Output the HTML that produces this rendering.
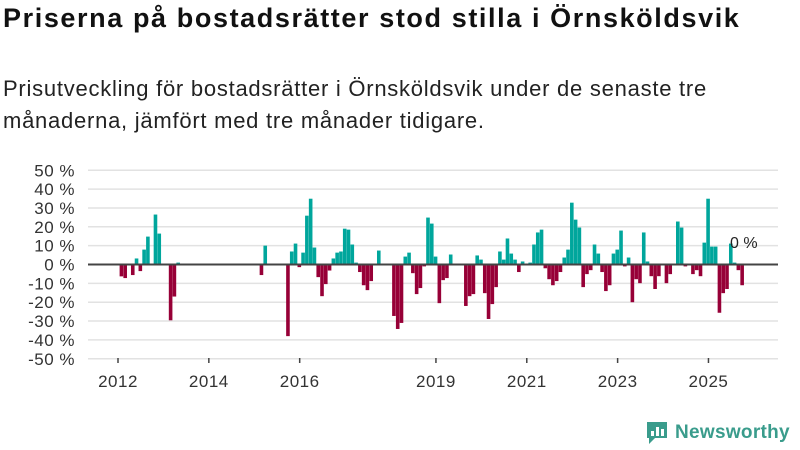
<!DOCTYPE html>
<html><head><meta charset="utf-8"><style>
body{margin:0;width:800px;height:450px;background:#fff;font-family:"Liberation Sans",sans-serif;overflow:hidden;position:relative}
h1{position:absolute;left:3px;top:3px;margin:0;font-size:27px;font-weight:bold;color:#111;letter-spacing:1.6px;white-space:nowrap}
p{position:absolute;left:3px;top:73px;margin:0;font-size:22px;line-height:32px;color:#222;width:760px;letter-spacing:0.75px}
</style></head><body>
<h1>Priserna på bostadsrätter stod stilla i Örnsköldsvik</h1>
<p>Prisutveckling för bostadsrätter i Örnsköldsvik under de senaste tre<br>månaderna, jämfört med tre månader tidigare.</p>
<svg id="chart" width="800" height="450" style="position:absolute;left:0;top:0"></svg>
<div style="position:absolute;left:645px;top:420px;display:flex;align-items:center">
<svg width="24" height="26"><path d="M2 2h20v16h-12l-6 6v-6h-2z" fill="#3a9c8c"/><rect x="6" y="11" width="3" height="5" fill="#fff"/><rect x="11" y="7" width="3" height="9" fill="#fff"/><rect x="16" y="9" width="3" height="7" fill="#fff"/></svg>
<span style="font-size:19px;font-weight:bold;color:#3a9c8c;margin-left:6px;letter-spacing:0.3px">Newsworthy</span></div>
<script>
const values=[-6.3,-7.2,null,-5.6,3.2,-3.5,7.9,14.8,null,26.5,16.4,null,null,-29.6,-17,1,
null,null,null,null,null,null,null,null,null,null,null,null,null,null,null,null,null,null,null,null,null,-5.6,10,null,null,null,null,null,-38,6.9,11.1,-1.4,6.3,25.9,34.9,9,-6.7,-16.8,-10.4,-3.2,
3.2,6.3,6.9,19,18.5,10.6,1,-4,-11,-13.6,-8.8,null,7.4,null,null,null,-27.3,-34.2,-31,4.2,6.3,-4.6,-15.7,-12.5,-1,24.9,21.7,4.2,-20.5,-8.3,-7.2,5.3,
null,null,null,-22,-16.8,-15.7,4.8,2.6,-15.2,-28.9,-21,-12,6.9,2.6,13.8,5.8,2.6,-4,1.6,null,1,10.6,17,18.5,-2,-7.8,-11,-8.8,-4,
3.7,7.9,32.8,23.8,19.6,-12,-5.1,-3,10.6,5.8,-4,-14.1,-11,5.8,7.9,18,-1,3.7,-20,-7.8,-9.9,17,1.6,-6.2,-13,-6.2,null,-9.9,-5.1,null,22.8,19.6,-1,null,-5.1,-3,-6.2,11.6,34.9,9.5,9.5,-25.6,-15.2,-13,11.1,1,-3,-11];
const yTicks=[50,40,30,20,10,0,-10,-20,-30,-40,-50];
const xYears=[2012,2014,2016,2019,2021,2023,2025];
const NS="http://www.w3.org/2000/svg",svg=document.getElementById('chart');
const y=v=>264.5-v*1.885;
const yearX=yr=>118+(yr-2012)*45.42;
const monthX=i=>118+(i+0.9)*3.785;
function el(t,a){const e=document.createElementNS(NS,t);for(const k in a)e.setAttribute(k,a[k]);svg.appendChild(e);return e;}
yTicks.forEach(t=>{
 const g=el('line',{x1:88,x2:778,y1:y(t),y2:y(t),stroke:'#e2e2e2','stroke-width':1.5});
 
 
 const tx=el('text',{x:75,y:y(t)+6,'text-anchor':'end','font-size':17,fill:'#333','font-family':'Liberation Sans, sans-serif','letter-spacing':0.5});
 tx.textContent=t+' %';
 
 
});
xYears.forEach(yr=>{
 const x=yearX(yr);
 const l=el('line',{x1:x,x2:x,y1:358,y2:363,stroke:'#444','stroke-width':1.5});
 
 
 const tx=el('text',{x:x,y:387,'text-anchor':'middle','font-size':17,fill:'#333','font-family':'Liberation Sans, sans-serif','letter-spacing':0.5});
 tx.textContent=yr;
 
 
});
values.forEach((v,i)=>{
 if(v===null)return;
 const x=monthX(i);
 const r=el('rect',{x:x-1.8,width:3.6,y:Math.min(y(v),y(0)),height:Math.abs(y(v)-y(0)),fill:v>=0?'#00a69c':'#970037'});
 
 
});
const z=el('line',{x1:88,x2:778,y1:y(0),y2:y(0),stroke:'#444','stroke-width':2});


const lab=el('text',{x:730,y:248,'font-size':16,fill:'#222','font-family':'Liberation Sans, sans-serif'});
lab.textContent='0 %';


</script>
</body></html>
